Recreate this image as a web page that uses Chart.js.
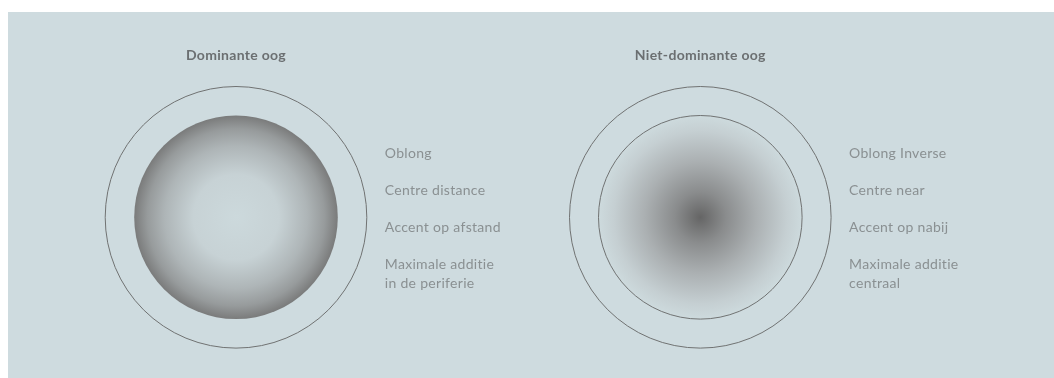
<!DOCTYPE html>
<html>
<head>
<meta charset="utf-8">
<script src="https://cdn.jsdelivr.net/npm/chart.js@4.4.1/dist/chart.umd.min.js"></script>
<style>
  html, body { margin: 0; padding: 0; background: #ffffff; }
  #panel { position: absolute; left: 8px; top: 12px; width: 1046px; height: 366px; background: #cedbdf; }
  canvas { display: block; }
</style>
</head>
<body>
<div id="panel"><canvas id="c"></canvas></div>
<script>
// ---- data (axis units: 1 unit = 10 px of the panel) ----
const eyes = ['Dominante oog', 'Niet-dominante oog'];
const eyeX = [22.8, 69.23];
const eyeY = [16.07, 16.07];
const outerR = [13.08, 13.08];
const innerR = [10.18, 10.18];
const lensLabels = [
  ['Oblong', 'Centre distance', 'Accent op afstand', ['Maximale additie', 'in de periferie']],
  ['Oblong Inverse', 'Centre near', 'Accent op nabij', ['Maximale additie', 'centraal']]
];

// ---- styles ----
const lineColor = '#707272';
const gradStops = [
  [[0, '#ccd9dc'], [0.42, '#c7d2d5'], [0.7, '#aeb5b7'], [0.87, '#979b9c'], [1, '#7a7b7b']],
  [[0, '#656565'], [0.25, '#8a8c8d'], [0.55, '#abb0b2'], [0.85, '#c5cfd2'], [1, '#cddadd']]
];

function unitToPx(chart, r) {
  const xs = chart.scales && chart.scales.x;
  if (!xs) return 0;
  const v = xs.getPixelForValue(r) - xs.getPixelForValue(0);
  return isFinite(v) && v > 0 ? v : 0;
}

function discFill(ctx) {
  const chart = ctx.chart;
  const i = ctx.dataIndex;
  if (!chart.scales || !chart.scales.x || !chart.scales.y) return '#aab2b4';
  const cx = chart.scales.x.getPixelForValue(eyeX[i]);
  const cy = chart.scales.y.getPixelForValue(eyeY[i]);
  const r = unitToPx(chart, innerR[i]);
  if (!isFinite(cx) || !isFinite(cy) || !(r > 0)) return '#aab2b4';
  const g = chart.ctx.createRadialGradient(cx, cy, 0, cx, cy, r);
  gradStops[i].forEach(s => g.addColorStop(s[0], s[1]));
  return g;
}

const textPlugin = {
  id: 'eyeText',
  afterDatasetsDraw(chart) {
    const c = chart.ctx;
    c.save();
    eyes.forEach((name, i) => {
      const cx = chart.scales.x.getPixelForValue(eyeX[i]);
      const cy = chart.scales.y.getPixelForValue(eyeY[i]);
      const ro = unitToPx(chart, outerR[i]);
      c.fillStyle = '#6b6f71';
      c.font = 'bold 14px Lato';
      c.letterSpacing = '0.3px';
      c.textAlign = 'center';
      c.textBaseline = 'alphabetic';
      c.fillText(name, cx, cy - ro - 27);
      c.fillStyle = '#8a9092';
      c.font = '14px Lato';
      c.letterSpacing = '0.3px';
      c.textAlign = 'left';
      c.textBaseline = 'middle';
      const lx = cx + ro + 18;
      let y = cy - 64;
      lensLabels[i].forEach(item => {
        const lines = Array.isArray(item) ? item : [item];
        lines.forEach((ln, k) => {
          c.fillText(ln, lx, y + k * 19);
        });
        y += 37;
      });
    });
    c.restore();
  }
};

const pts = eyes.map((e, i) => ({ x: eyeX[i], y: eyeY[i] }));

new Chart(document.getElementById('c'), {
  type: 'scatter',
  data: {
    labels: eyes,
    datasets: [
      {
        label: 'Lens',
        data: pts,
        pointRadius: ctx => unitToPx(ctx.chart, innerR[ctx.dataIndex]),
        pointHoverRadius: ctx => unitToPx(ctx.chart, innerR[ctx.dataIndex]),
        pointBackgroundColor: discFill,
        pointBorderColor: ['rgba(0,0,0,0)', lineColor],
        pointBorderWidth: [0, 1]
      },
      {
        label: 'Oog',
        data: pts,
        pointRadius: ctx => unitToPx(ctx.chart, outerR[ctx.dataIndex]),
        pointHoverRadius: ctx => unitToPx(ctx.chart, outerR[ctx.dataIndex]),
        pointBackgroundColor: 'rgba(0,0,0,0)',
        pointBorderColor: lineColor,
        pointBorderWidth: 1
      }
    ]
  },
  options: {
    responsive: true,
    maintainAspectRatio: false,
    animation: false,
    events: [],
    layout: { padding: 0 },
    plugins: { legend: { display: false }, tooltip: { enabled: false }, title: { display: false } },
    scales: {
      x: { type: 'linear', min: 0, max: 104.6, display: false },
      y: { type: 'linear', min: 0, max: 36.6, display: false }
    }
  },
  plugins: [textPlugin]
});
</script>
</body>
</html>
